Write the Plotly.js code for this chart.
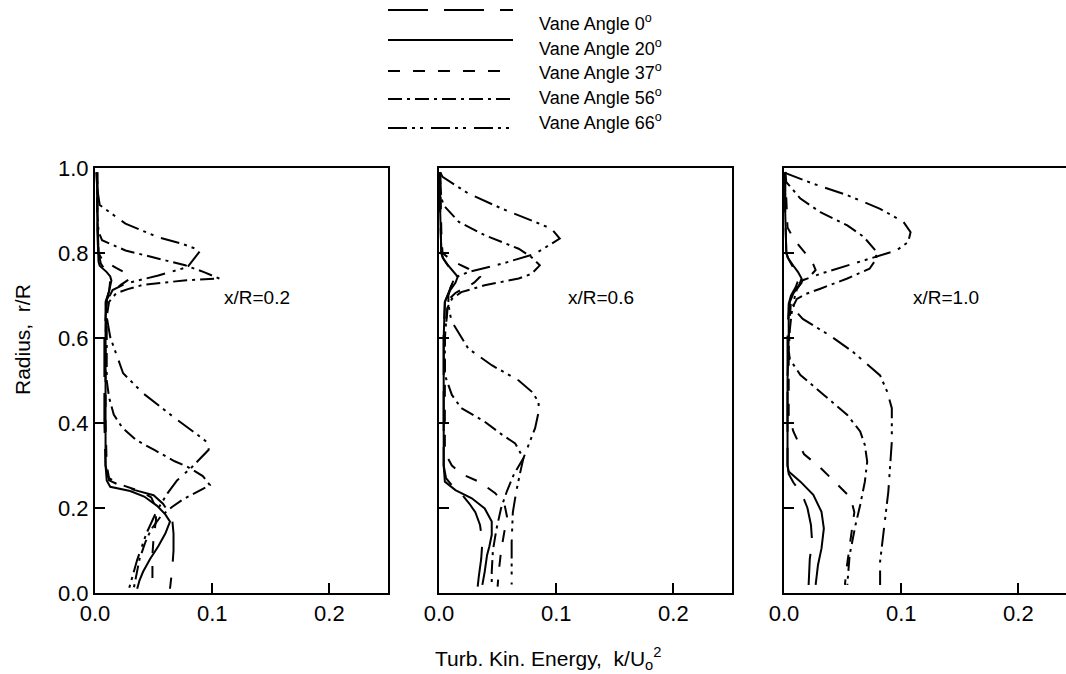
<!DOCTYPE html>
<html>
<head>
<meta charset="utf-8">
<script src="https://cdn.plot.ly/plotly-3.0.1.min.js"></script>
<style>
html,body{margin:0;padding:0;overflow:hidden;background:#fff;}
#chart{width:1100px;height:674px;}
</style>
</head>
<body>
<div id="chart"></div>
<script>
// ---------- data (k/Uo^2 vs r/R) ----------
const seriesNames = ['Vane Angle 0<sup>o</sup>','Vane Angle 20<sup>o</sup>','Vane Angle 37<sup>o</sup>','Vane Angle 56<sup>o</sup>','Vane Angle 66<sup>o</sup>'];
const panelLabels = ['x/R=0.2','x/R=0.6','x/R=1.0'];
const xTickVals = [0, 0.1, 0.2];
const xTickText = ['0.0','0.1','0.2'];
const yTickVals = [0, 0.2, 0.4, 0.6, 0.8, 1.0];
const yTickText = ['0.0','0.2','0.4','0.6','0.8','1.0'];

// Panel 1: x/R = 0.2
const p1_a0_r = [0.99,0.9,0.8,0.775,0.75,0.735,0.71,0.69,0.6,0.5,0.4,0.3,0.265,0.255,0.242,0.23,0.21,0.19,0.17,0.14,0.1,0.06,0.03,0.01];
const p1_a0_k = [0.002,0.002,0.003,0.005,0.011,0.013,0.012,0.010,0.008,0.008,0.008,0.009,0.012,0.020,0.034,0.050,0.058,0.063,0.066,0.067,0.067,0.066,0.065,0.064];
const p1_a20_r = [0.99,0.95,0.85,0.78,0.77,0.755,0.745,0.735,0.71,0.685,0.6,0.5,0.4,0.3,0.265,0.25,0.24,0.227,0.205,0.185,0.168,0.14,0.11,0.08,0.05,0.03,0.01];
const p1_a20_k = [0.001,0.002,0.002,0.003,0.004,0.010,0.013,0.014,0.012,0.009,0.009,0.009,0.009,0.009,0.010,0.013,0.030,0.042,0.053,0.060,0.064,0.060,0.054,0.047,0.041,0.038,0.036];
const p1_a37_r = [0.99,0.9,0.8,0.785,0.765,0.75,0.74,0.725,0.705,0.69,0.6,0.5,0.4,0.3,0.27,0.255,0.24,0.225,0.2,0.17,0.13,0.09,0.05,0.01];
const p1_a37_k = [0.002,0.002,0.003,0.006,0.018,0.028,0.030,0.022,0.013,0.010,0.009,0.009,0.009,0.010,0.012,0.022,0.038,0.048,0.052,0.052,0.050,0.049,0.049,0.049];
const p1_a56_r = [0.97,0.9,0.85,0.83,0.806,0.787,0.771,0.755,0.74,0.736,0.73,0.725,0.715,0.705,0.685,0.65,0.6,0.55,0.5,0.46,0.42,0.39,0.36,0.336,0.31,0.297,0.275,0.254,0.24,0.22,0.203,0.18,0.15,0.12,0.08,0.04,0.01];
const p1_a56_k = [0.002,0.002,0.003,0.006,0.026,0.054,0.077,0.093,0.106,0.078,0.060,0.041,0.028,0.018,0.012,0.010,0.010,0.010,0.010,0.012,0.016,0.023,0.035,0.051,0.068,0.079,0.092,0.098,0.088,0.075,0.066,0.056,0.048,0.043,0.038,0.035,0.033];
const p1_a66_r = [0.95,0.913,0.869,0.837,0.822,0.806,0.767,0.747,0.728,0.713,0.685,0.65,0.602,0.517,0.47,0.414,0.367,0.352,0.337,0.297,0.265,0.235,0.195,0.141,0.078,0.023,0.01];
const p1_a66_k = [0.002,0.004,0.026,0.054,0.074,0.090,0.079,0.054,0.026,0.015,0.010,0.010,0.013,0.024,0.041,0.067,0.090,0.097,0.097,0.083,0.070,0.062,0.053,0.044,0.036,0.030,0.029];

// Panel 2: x/R = 0.6
const p2_a0_r = [0.99,0.9,0.8,0.785,0.765,0.75,0.74,0.725,0.705,0.685,0.6,0.5,0.4,0.3,0.27,0.25,0.23,0.21,0.19,0.16,0.12,0.08,0.04,0.015];
const p2_a0_k = [0.001,0.001,0.002,0.004,0.009,0.012,0.013,0.011,0.008,0.005,0.004,0.004,0.004,0.004,0.006,0.012,0.020,0.026,0.031,0.035,0.037,0.036,0.034,0.033];
const p2_a20_r = [0.99,0.9,0.8,0.79,0.77,0.755,0.744,0.73,0.71,0.685,0.6,0.5,0.4,0.3,0.262,0.242,0.223,0.199,0.168,0.137,0.11,0.089,0.05,0.019];
const p2_a20_k = [0.001,0.001,0.002,0.003,0.008,0.013,0.016,0.014,0.009,0.005,0.004,0.004,0.004,0.004,0.005,0.014,0.028,0.039,0.045,0.045,0.043,0.041,0.039,0.037];
const p2_a37_r = [0.99,0.85,0.8,0.78,0.763,0.744,0.73,0.706,0.69,0.6,0.5,0.4,0.34,0.325,0.30,0.28,0.262,0.235,0.207,0.18,0.15,0.1,0.05,0.015];
const p2_a37_k = [0.001,0.002,0.003,0.012,0.025,0.035,0.030,0.014,0.008,0.005,0.005,0.005,0.005,0.006,0.011,0.019,0.034,0.048,0.056,0.058,0.056,0.053,0.051,0.050];
const p2_a56_r = [0.97,0.93,0.912,0.873,0.842,0.81,0.79,0.771,0.751,0.74,0.724,0.708,0.692,0.67,0.6,0.55,0.513,0.466,0.435,0.403,0.372,0.352,0.317,0.28,0.24,0.2,0.15,0.1,0.05,0.015];
const p2_a56_k = [0.001,0.002,0.004,0.017,0.039,0.068,0.079,0.086,0.079,0.068,0.039,0.019,0.011,0.007,0.005,0.005,0.005,0.011,0.019,0.039,0.054,0.065,0.072,0.064,0.058,0.053,0.049,0.046,0.045,0.045];
const p2_a66_r = [0.99,0.979,0.94,0.904,0.873,0.857,0.834,0.798,0.775,0.755,0.744,0.72,0.7,0.685,0.66,0.638,0.575,0.536,0.50,0.474,0.45,0.426,0.388,0.317,0.28,0.24,0.19,0.12,0.02];
const p2_a66_k = [0.001,0.003,0.025,0.054,0.082,0.096,0.103,0.082,0.054,0.025,0.015,0.010,0.008,0.008,0.009,0.011,0.025,0.045,0.068,0.079,0.085,0.085,0.082,0.072,0.069,0.066,0.063,0.062,0.062];

// Panel 3: x/R = 1.0
const p3_a0_r = [0.99,0.9,0.8,0.785,0.765,0.75,0.735,0.72,0.70,0.68,0.6,0.5,0.4,0.3,0.28,0.26,0.235,0.2,0.16,0.12,0.08,0.04,0.019];
const p3_a0_k = [0.001,0.001,0.002,0.004,0.008,0.011,0.012,0.010,0.006,0.004,0.003,0.003,0.003,0.003,0.004,0.008,0.015,0.020,0.023,0.024,0.022,0.021,0.021];
const p3_a20_r = [0.99,0.9,0.8,0.79,0.77,0.755,0.74,0.725,0.705,0.685,0.65,0.6,0.5,0.4,0.3,0.286,0.262,0.231,0.191,0.152,0.105,0.066,0.019];
const p3_a20_k = [0.001,0.001,0.002,0.003,0.008,0.012,0.015,0.013,0.008,0.005,0.004,0.004,0.003,0.003,0.003,0.004,0.014,0.025,0.032,0.034,0.032,0.029,0.027];
const p3_a37_r = [0.99,0.9,0.86,0.83,0.80,0.78,0.76,0.745,0.73,0.71,0.69,0.6,0.5,0.42,0.38,0.327,0.295,0.254,0.224,0.19,0.15,0.1,0.05,0.019];
const p3_a37_k = [0.001,0.002,0.003,0.009,0.018,0.024,0.027,0.022,0.015,0.009,0.006,0.004,0.004,0.004,0.008,0.017,0.031,0.046,0.057,0.060,0.058,0.055,0.053,0.052];
const p3_a56_r = [0.987,0.967,0.928,0.896,0.865,0.838,0.806,0.787,0.763,0.74,0.716,0.704,0.692,0.67,0.62,0.57,0.55,0.513,0.466,0.419,0.38,0.348,0.309,0.262,0.207,0.16,0.089,0.04,0.019];
const p3_a56_k = [0.001,0.002,0.014,0.031,0.054,0.068,0.078,0.079,0.073,0.054,0.031,0.019,0.011,0.007,0.005,0.004,0.005,0.014,0.034,0.054,0.065,0.069,0.071,0.069,0.065,0.061,0.056,0.055,0.054];
const p3_a66_r = [0.99,0.987,0.963,0.936,0.904,0.873,0.849,0.826,0.806,0.794,0.771,0.751,0.736,0.715,0.695,0.677,0.66,0.645,0.606,0.567,0.512,0.474,0.435,0.356,0.238,0.144,0.074,0.019];
const p3_a66_k = [0.001,0.002,0.025,0.054,0.082,0.102,0.108,0.106,0.096,0.082,0.054,0.031,0.016,0.011,0.009,0.008,0.011,0.016,0.039,0.059,0.082,0.088,0.092,0.092,0.089,0.085,0.082,0.082];

// ---------- styles ----------
const FONT = 'Liberation Sans, Arial, Helvetica, sans-serif';
const dashes = ['40px,16px', 'solid', '12px,13px', '14px,5px,3px,5px', '19px,5px,3px,5px,3px,8px'];
const W = 1100, H = 674;

const panels = [
  [[p1_a0_k,p1_a0_r],[p1_a20_k,p1_a20_r],[p1_a37_k,p1_a37_r],[p1_a56_k,p1_a56_r],[p1_a66_k,p1_a66_r]],
  [[p2_a0_k,p2_a0_r],[p2_a20_k,p2_a20_r],[p2_a37_k,p2_a37_r],[p2_a56_k,p2_a56_r],[p2_a66_k,p2_a66_r]],
  [[p3_a0_k,p3_a0_r],[p3_a20_k,p3_a20_r],[p3_a37_k,p3_a37_r],[p3_a56_k,p3_a56_r],[p3_a66_k,p3_a66_r]]
];

const traces = [];
panels.forEach((pan, pi) => {
  pan.forEach((s, si) => {
    traces.push({
      x: s[0], y: s[1], type: 'scatter', mode: 'lines',
      xaxis: pi === 0 ? 'x' : 'x' + (pi + 1),
      yaxis: pi === 0 ? 'y' : 'y' + (pi + 1),
      line: {color: '#000', width: 2, dash: dashes[si]},
      name: seriesNames[si], showlegend: false, hoverinfo: 'skip'
    });
  });
});

const panelPx = [[95, 388], [439, 732], [784, 1077]];
const yDom = [(H - 593) / H, (H - 168) / H];

const layout = {
  width: W, height: H,
  margin: {l: 0, r: 0, t: 0, b: 0},
  paper_bgcolor: '#fff', plot_bgcolor: '#fff',
  font: {family: FONT, color: '#000'},
  showlegend: false,
  shapes: [], annotations: []
};

panelPx.forEach((px, i) => {
  const sx = i === 0 ? 'xaxis' : 'xaxis' + (i + 1);
  const sy = i === 0 ? 'yaxis' : 'yaxis' + (i + 1);
  const ax = i === 0 ? 'x' : 'x' + (i + 1);
  const ay = i === 0 ? 'y' : 'y' + (i + 1);
  layout[sx] = {
    domain: [px[0] / W, px[1] / W], range: [0, 0.25], anchor: ay,
    tickmode: 'array', tickvals: xTickVals, ticktext: xTickText,
    ticks: 'inside', ticklen: 10, tickwidth: 2, tickcolor: '#000',
    showline: true, linewidth: 2, linecolor: '#000', mirror: true,
    showgrid: false, zeroline: false, fixedrange: true,
    tickfont: {family: FONT, size: 22, color: '#000'}
  };
  layout[sy] = {
    domain: yDom, range: [0, 1], anchor: ax,
    tickmode: 'array', tickvals: yTickVals, ticktext: yTickText,
    showticklabels: i === 0,
    ticks: 'inside', ticklen: 10, tickwidth: 2, tickcolor: '#000',
    showline: true, linewidth: 2, linecolor: '#000', mirror: true,
    showgrid: false, zeroline: false, fixedrange: true,
    tickfont: {family: FONT, size: 22, color: '#000'}
  };
  layout.annotations.push({
    xref: ax, yref: ay, x: 0.108, y: 0.696, xanchor: 'left', yanchor: 'middle',
    text: panelLabels[i], showarrow: false, font: {family: FONT, size: 19, color: '#000'}
  });
});

// legend (manual, matches original layout)
const legLineY = [10, 40, 71, 99, 128];
const legTextY = [22, 47, 71, 96, 121];
seriesNames.forEach((nm, i) => {
  layout.shapes.push({
    type: 'line', xref: 'paper', yref: 'paper',
    x0: 388 / W, x1: 513 / W, y0: 1 - legLineY[i] / H, y1: 1 - legLineY[i] / H,
    line: {color: '#000', width: 2, dash: dashes[i]}
  });
  layout.annotations.push({
    xref: 'paper', yref: 'paper', x: 537 / W, y: 1 - legTextY[i] / H,
    xanchor: 'left', yanchor: 'middle', text: nm, showarrow: false,
    font: {family: FONT, size: 18, color: '#000'}
  });
});

// axis titles
layout.annotations.push({
  xref: 'paper', yref: 'paper', x: 548 / W, y: 1 - 658 / H, xanchor: 'center', yanchor: 'middle',
  text: 'Turb. Kin. Energy,\u00a0 k/U<sub>o</sub><sup>2</sup>', showarrow: false,
  font: {family: FONT, size: 21, color: '#000'}
});
layout.annotations.push({
  xref: 'paper', yref: 'paper', x: 22 / W, y: 1 - 340 / H, xanchor: 'center', yanchor: 'middle',
  text: 'Radius,\u00a0 r/R', textangle: -90, showarrow: false,
  font: {family: FONT, size: 21, color: '#000'}
});

Plotly.newPlot('chart', traces, layout, {staticPlot: true, displayModeBar: false});
</script>
</body>
</html>
